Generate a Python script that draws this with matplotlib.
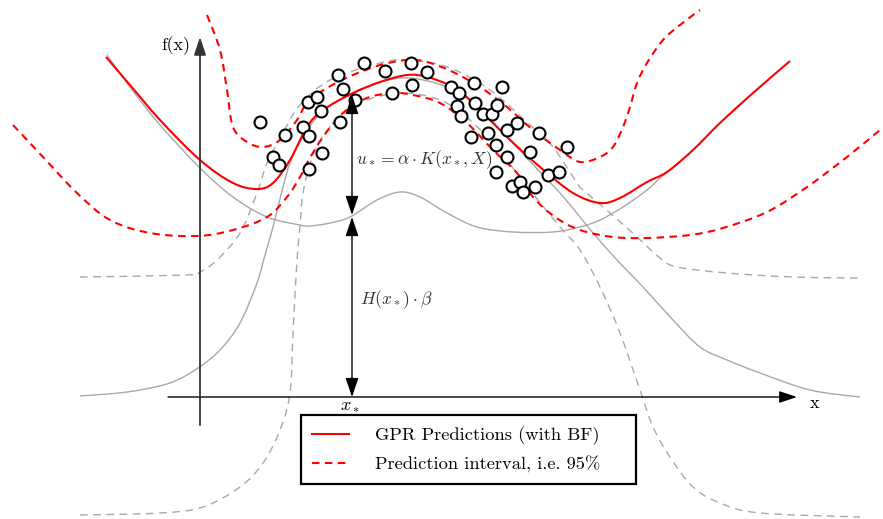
import numpy as np
import matplotlib
matplotlib.use("Agg")
import matplotlib.pyplot as plt
from matplotlib.path import Path
from matplotlib.patches import PathPatch
from matplotlib.lines import Line2D

plt.rcParams["mathtext.fontset"] = "cm"
plt.rcParams["axes.unicode_minus"] = False

# ---- curves (x, f(x)) in sketch units, origin at the axis crossing ----
mean_x = [-94, -70, -40, 0, 33, 57, 73, 90, 107, 123, 153, 180, 207, 227, 253, 273,
          307, 340, 373, 400, 420, 447, 467, 493, 520, 553, 590]
mean_y = [340, 312, 277, 237, 214, 208, 214, 237, 270, 287, 304, 315, 322, 320, 310, 294,
          260, 230, 204, 194, 199, 215, 225, 247, 274, 304, 336]

upper_x = [7, 20, 27, 33, 47, 63, 80, 97, 107, 127, 153, 180, 207, 227, 253, 280, 307,
           333, 360, 380, 400, 413, 423, 430, 437, 447, 463, 480, 500]
upper_y = [382, 347, 307, 270, 255, 250, 257, 277, 294, 309, 322, 332, 337, 335, 325, 310,
           290, 267, 247, 235, 240, 250, 270, 290, 314, 334, 357, 372, 387]

lower_x = [-187, -157, -123, -90, -50, -3, 33, 67, 87, 100, 107, 123, 143, 167, 193, 213,
           240, 267, 293, 317, 333, 355, 380, 413, 447, 490, 523, 567, 607, 647, 680]
lower_y = [272, 240, 204, 177, 164, 161, 167, 180, 200, 220, 234, 260, 284, 299, 304, 302,
           294, 274, 247, 224, 200, 180, 167, 160, 159, 162, 169, 185, 210, 240, 267]

basis_x = [-93, -70, -40, 0, 33, 67, 100, 110, 130, 150, 177, 200, 220, 247, 277, 313,
           353, 380, 400, 423, 447, 460, 467]
basis_y = [342, 310, 272, 229, 200, 180, 172, 171, 174, 180, 197, 205, 200, 184, 170, 165,
           165, 170, 177, 190, 207, 219, 225]

true_x = [-120, -73, -30, -2, 20, 40, 57, 65, 73, 83, 90, 100, 120, 150, 200, 250, 280,
          310, 340, 360, 380, 393, 417, 443, 473, 500, 527, 560, 610, 660]
true_y = [1, 5, 14, 29, 47, 74, 114, 142, 170, 210, 234, 255, 283, 302, 319, 309, 288,
          257, 225, 204, 180, 164, 137, 110, 77, 50, 37, 24, 7, 0]

gp_up_x = [-120, -13, 0, 17, 40, 57, 67, 83, 100, 130, 180, 210, 250, 290, 330, 353, 377,
           383, 410, 437, 460, 477, 527, 593, 660]
gp_up_y = [120, 122, 125, 137, 164, 204, 234, 264, 292, 317, 334, 337, 329, 307, 272, 250,
           214, 207, 184, 160, 139, 130, 124, 120, 119]

gp_lo_x = [-120, -40, 3, 40, 63, 80, 90, 93, 97, 100, 103, 113, 130, 160, 200, 240, 270,
           300, 330, 360, 380, 400, 420, 440, 453, 470, 493, 520, 560, 660]
gp_lo_y = [-118, -116, -110, -90, -66, -33, 4, 64, 137, 170, 204, 242, 270, 294, 304, 297,
           277, 245, 207, 170, 147, 110, 64, 7, -30, -60, -90, -106, -116, -120]

# ---- observations ----
obs_x = [60, 73, 79, 85, 103, 109, 108, 117, 121, 109, 122, 138, 143, 140, 155, 164, 185,
         192, 211, 212, 227, 251, 259, 274, 257, 261, 275, 283, 292, 297, 302, 271, 288,
         296, 307, 317, 307, 296, 339, 330, 367, 348, 359, 312, 320, 323, 335]
obs_y = [275, 240, 232, 262, 270, 261, 295, 300, 286, 228, 244, 322, 308, 275, 297, 334,
         326, 304, 334, 312, 325, 310, 304, 314, 291, 281, 294, 283, 283, 292, 310, 260,
         264, 252, 267, 274, 240, 225, 264, 245, 250, 222, 225, 211, 215, 205, 210]

x_star = 152
h_beta = 181
u_top = 302

RED = "#ff0000"
GREY = "#a8a8a8"


def smooth_path(xs, ys):
    """Catmull-Rom curve through the given points, as cubic Bezier segments."""
    p = np.column_stack([xs, ys]).astype(float)
    ext = np.vstack([p[0], p, p[-1]])
    verts = [p[0]]
    codes = [Path.MOVETO]
    for i in range(1, len(ext) - 2):
        p0, p1, p2, p3 = ext[i - 1], ext[i], ext[i + 1], ext[i + 2]
        verts += [p1 + (p2 - p0) / 6.0, p2 - (p3 - p1) / 6.0, p2]
        codes += [Path.CURVE4] * 3
    return Path(verts, codes)


def draw_curve(ax, xs, ys, **kw):
    ax.add_patch(PathPatch(smooth_path(xs, ys), fill=False, capstyle="butt", **kw))


fig = plt.figure(figsize=(8.83, 5.19), dpi=100)
ax = fig.add_axes([0, 0, 1, 1])
ax.set_xlim(-200, 683)
ax.set_ylim(-122, 397)
ax.axis("off")

grey_dash = (0, (5.5, 4.0))
red_dash = (0, (3.6, 2.6))

draw_curve(ax, gp_up_x, gp_up_y, edgecolor=GREY, lw=1.0, linestyle=grey_dash, zorder=2)
draw_curve(ax, gp_lo_x, gp_lo_y, edgecolor=GREY, lw=1.0, linestyle=grey_dash, zorder=2)
draw_curve(ax, true_x, true_y, edgecolor=GREY, lw=1.0, zorder=2)
draw_curve(ax, basis_x, basis_y, edgecolor=GREY, lw=1.0, zorder=2)

draw_curve(ax, upper_x, upper_y, edgecolor=RED, lw=1.5, linestyle=red_dash, zorder=3)
draw_curve(ax, lower_x, lower_y, edgecolor=RED, lw=1.5, linestyle=red_dash, zorder=3)
draw_curve(ax, mean_x, mean_y, edgecolor=RED, lw=1.5, zorder=3)

ax.plot(obs_x, obs_y, linestyle="none", marker="o", markersize=8.6,
        markerfacecolor="white", markeredgecolor="black", markeredgewidth=1.5, zorder=5)

# coordinate axes
ax.annotate("", xy=(597, 0), xytext=(-32, 0),
            arrowprops=dict(arrowstyle="-|>,head_length=0.6,head_width=0.2", lw=1.0,
                            color="black", shrinkA=0, shrinkB=0, mutation_scale=18),
            zorder=4)
ax.annotate("", xy=(0, 360), xytext=(0, -28),
            arrowprops=dict(arrowstyle="-|>,head_length=0.6,head_width=0.2", lw=1.3,
                            color="#333333", shrinkA=0, shrinkB=0, mutation_scale=18),
            zorder=4)
ax.text(-10, 351, "f(x)", ha="right", va="center", fontsize=13, family="cmr10")
ax.text(615, -6, "x", ha="center", va="center", fontsize=13, family="cmr10")
ax.text(x_star - 2, -8, r"$x_*$", ha="center", va="center", fontsize=13)

# decomposition of the prediction at x_*
arrow_kw = dict(arrowstyle="<|-|>,head_length=0.65,head_width=0.22", lw=1.0,
                color="black", shrinkA=0, shrinkB=0, mutation_scale=18)
ax.annotate("", xy=(x_star, u_top), xytext=(x_star, h_beta + 1), arrowprops=arrow_kw, zorder=6)
ax.annotate("", xy=(x_star, h_beta - 1), xytext=(x_star, 0), arrowprops=arrow_kw, zorder=6)
ax.text(x_star + 4, 237, r"$u_* = \alpha \cdot K(x_*, X)$", ha="left", va="center",
        fontsize=12.6, color="#333333", zorder=6)
ax.text(x_star + 8, 97, r"$H(x_*) \cdot \beta$", ha="left", va="center",
        fontsize=12.6, color="#333333", zorder=6)

handles = [Line2D([], [], color=RED, lw=1.5),
           Line2D([], [], color=RED, lw=1.5, linestyle=red_dash)]
labels = ["GPR Predictions (with BF)", "Prediction interval, i.e. 95%"]
leg = ax.legend(handles, labels, loc="upper left",
                bbox_to_anchor=(301 / 883, 1 - 415 / 519, 335 / 883, 0), mode="expand",
                prop={"family": "cmr10", "size": 13.3}, frameon=True, fancybox=False,
                edgecolor="black", framealpha=1, handlelength=2.0, handletextpad=1.4,
                borderpad=0.62, labelspacing=0.56, borderaxespad=0)
leg.get_frame().set_linewidth(1.6)

fig.savefig("out.png", dpi=100)
